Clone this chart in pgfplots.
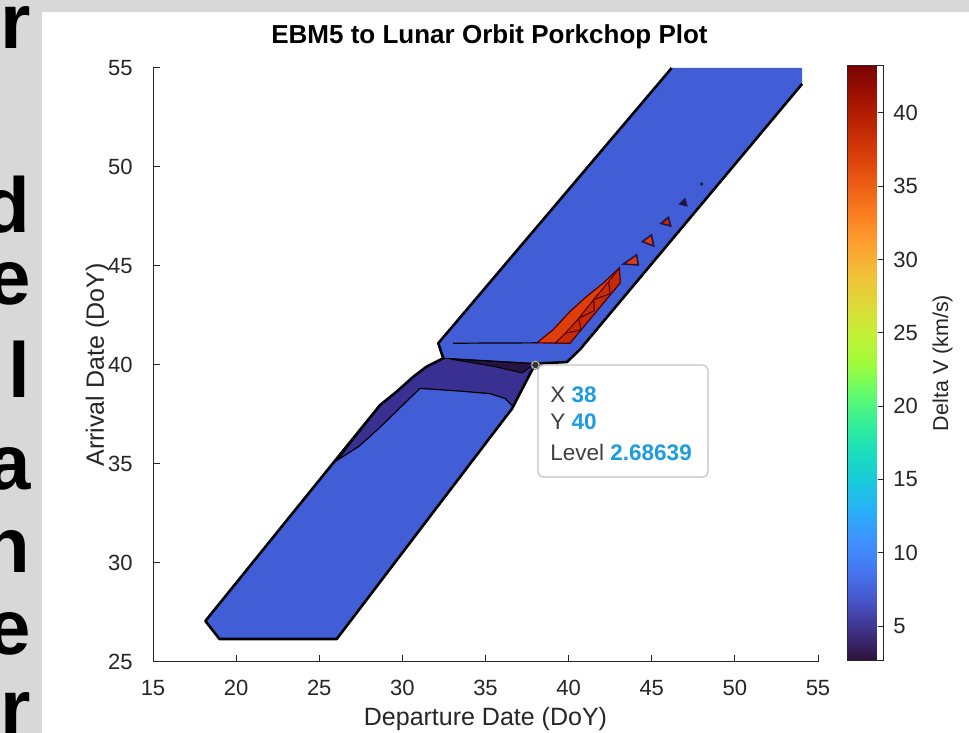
\documentclass[border=0pt]{standalone}
\usepackage{pgfplots}
\pgfplotsset{compat=1.18}
\usepackage{fontspec}
\setmainfont{Liberation Sans}
\definecolor{axgray}{RGB}{38,38,38}
\definecolor{figgray}{RGB}{216,216,216}
\definecolor{bandblue}{RGB}{66,94,214}
\definecolor{navy}{RGB}{58,48,145}
\definecolor{deepnavy}{RGB}{36,20,68}
\definecolor{redA}{RGB}{222,62,12}
\definecolor{redB}{RGB}{198,42,6}
\definecolor{tipblue}{RGB}{30,155,225}
\definecolor{tiplabel}{RGB}{64,64,64}
\definecolor{tipborder}{RGB}{195,195,195}
\pgfplotsset{colormap={turbo}{rgb255=(48,18,59) rgb255=(62,50,135) rgb255=(71,85,201) rgb255=(70,118,240) rgb255=(62,145,254) rgb255=(41,175,248) rgb255=(25,201,222) rgb255=(27,222,188) rgb255=(53,239,151) rgb255=(99,251,107) rgb255=(160,252,58) rgb255=(196,240,55) rgb255=(222,216,56) rgb255=(242,191,56) rgb255=(253,160,48) rgb255=(250,127,33) rgb255=(237,94,20) rgb255=(217,62,10) rgb255=(190,38,3) rgb255=(158,17,1) rgb255=(122,4,3)}}
\begin{document}
\begin{tikzpicture}[x=0.5pt,y=0.5pt]
\useasboundingbox (0,0) rectangle (969,733);
\fill[figgray] (0,0) rectangle (969,733);
\fill[white] (42,0) rectangle (969,721);
\begin{scope}
\clip (0,0) rectangle (42,733);
\foreach \ch/\b in {r/684, d/500, e/428, l/335, a/243, n/160, e/78, r/-2} {
  \node[anchor=base east, inner sep=0pt, font=\fontsize{39}{39}\selectfont\bfseries] at (31,\b) {\ch};
}
\end{scope}
\begin{axis}[
  at={(76.5pt,35.5pt)}, anchor=south west,
  scale only axis, width=332.5pt, height=297pt,
  xmin=15, xmax=55, ymin=25, ymax=55,
  axis x line*=bottom, axis y line*=left,
  axis line style={-, draw=axgray, line width=0.5pt},
  xtick={15,20,...,55}, ytick={25,30,...,55},
  tick align=inside, major tick length=3.5pt,
  tick style={draw=axgray, line width=0.5pt},
  /pgf/number format/assume math mode=true,
  ticklabel style={font=\fontsize{11}{11}\selectfont, text=axgray},
  xticklabel style={anchor=base, yshift=-16.5pt},
  yticklabel style={anchor=east, inner sep=0pt, xshift=-10pt},
  xlabel={Departure Date (DoY)},
  ylabel={Arrival Date (DoY)},
  label style={font=\fontsize{12.5}{12.5}\selectfont, text=axgray},
  xlabel style={at={(axis description cs:0.5,-0.1077)}, anchor=base},
  ylabel style={at={(axis description cs:-0.0737,0.5)}, anchor=base},
  title={EBM5 to Lunar Orbit Porkchop Plot},
  title style={at={(axis description cs:0.506,1.0202)}, anchor=base, font=\bfseries\fontsize{13}{13}\selectfont, text=black},
  colormap name=turbo,
  colorbar,
  point meta min=2.68639, point meta max=43.2,
  colorbar style={
    at={(parent axis.north east)}, anchor=north west, xshift=6.46pt, yshift=1pt,
    scale only axis, width=18pt, height=297pt,
    ytick={5,10,...,40}, ytick pos=right,
    tick align=inside, major tick length=3pt,
    tick style={draw=axgray, line width=0.5pt},
    axis line style={draw=axgray, line width=0.5pt},
    /pgf/number format/assume math mode=true,
    yticklabel style={anchor=west, inner sep=0pt, xshift=4.5pt, font=\fontsize{11}{11}\selectfont, text=axgray},
    ylabel={Delta V (km/s)},
    ylabel style={at={(axis description cs:2.78,0.5)}, anchor=base, font=\fontsize{10.75}{10.75}\selectfont, text=axgray},
  },
]
% whole band fill
\addplot[draw=none, fill=bandblue] coordinates {(46.2,55) (54.05,55) (54.05,54.2) (40.7,40.8) (39.9,40.15) (38.0,40.07) (36.6,37.8) (26.05,26.16) (19.0,26.16) (18.15,27.07) (28.65,37.97) (29.65,38.65) (30.66,39.41) (31.46,39.92) (32.46,40.34) (32.16,41.1)} -- cycle;
% dark region at the junction
\addplot[fill=navy, draw=black, line width=0.6pt] coordinates {(32.46,40.34) (38.0,40.07) (36.65,37.9) (36.2,38.3) (35.3,38.55) (33.5,38.68) (31.06,38.82) (28.65,36.85) (27.4,35.9) (26.1,35.2) (28.65,37.97) (29.65,38.65) (30.66,39.41) (31.46,39.92)} -- cycle;
\addplot[fill=deepnavy, draw=black, line width=0.5pt] coordinates {(32.9,40.3) (38.0,40.07) (37.2,39.6) (35.5,39.93)} -- cycle;
% outer boundary
\addplot[draw=black, line width=1.3pt, line join=round] coordinates {(54.05,54.2) (40.7,40.8) (39.9,40.15) (38.0,40.07) (36.6,37.8) (26.05,26.16) (19.0,26.16) (18.15,27.07) (28.65,37.97) (29.65,38.65) (30.66,39.41) (31.46,39.92) (32.46,40.34) (32.16,41.1) (46.2,55)};
% contour line in upper band
\addplot[draw=black, line width=0.6pt] coordinates {(33.05,41.1) (38.2,41.12)};
% red region
\addplot[fill=redA, draw=black!70!red, line width=0.6pt] coordinates {(38.1,41.12) (40.08,41.1) (43.1,44.15) (43.05,44.9) (42.08,44.13) (41.08,43.46) (40.08,42.7) (39.08,41.79) (38.5,41.4)} -- cycle;
\addplot[fill=redB, draw=black!70!red, line width=0.5pt] coordinates {(39.2,41.11) (40.08,41.1) (43.1,44.15) (43.05,44.9) (42.4,44.2) (41.5,43.3) (40.6,42.35) (39.8,41.6)} -- cycle;
\addplot[draw=black!70!red, line width=0.5pt] coordinates {(39.8,41.6) (40.75,41.78) (40.6,42.35) (41.55,42.75) (41.5,43.3) (42.5,43.6) (42.4,44.2)};
% small islands
\addplot[fill=redA, draw=deepnavy, line width=0.8pt] coordinates {(43.29,45.1) (44.09,45.56) (44.19,45.05)} -- cycle;
\addplot[fill=redA, draw=deepnavy, line width=0.8pt] coordinates {(44.44,46.23) (44.98,46.57) (45.12,46.01)} -- cycle;
\addplot[fill=redB, draw=deepnavy, line width=0.8pt] coordinates {(45.56,47.15) (46.0,47.46) (46.14,47.02)} -- cycle;
\addplot[fill=deepnavy, draw=deepnavy, line width=0.8pt] coordinates {(46.7,48.13) (46.99,48.37) (47.1,48.05)} -- cycle;
\addplot[only marks, mark=*, mark size=0.6pt, mark options={fill=deepnavy, draw=deepnavy}] coordinates {(48.0,49.14)};
% data tip
\draw[fill=white, draw=tipborder, line width=0.6pt, rounded corners=2.5pt] (axis cs:38.16,34.34) rectangle (axis cs:48.38,40.0);
\node[anchor=base west, inner sep=0pt, font=\fontsize{11.25}{11.25}\selectfont, text=tiplabel] at (axis cs:38.88,38.13) {X \textcolor{tipblue}{\bfseries 38}};
\node[anchor=base west, inner sep=0pt, font=\fontsize{11.25}{11.25}\selectfont, text=tiplabel] at (axis cs:38.88,36.72) {Y \textcolor{tipblue}{\bfseries 40}};
\node[anchor=base west, inner sep=0pt, font=\fontsize{11.25}{11.25}\selectfont, text=tiplabel] at (axis cs:38.88,35.2) {Level \textcolor{tipblue}{\bfseries 2.68639}};
\addplot[only marks, mark=*, mark size=2.2pt, mark options={fill=white, draw=black!55, line width=0.4pt}] coordinates {(38,40)};
\addplot[only marks, mark=*, mark size=1.4pt, mark options={fill=black!80, draw=black!80}] coordinates {(38,40)};
\end{axis}
\end{tikzpicture}
\end{document}
